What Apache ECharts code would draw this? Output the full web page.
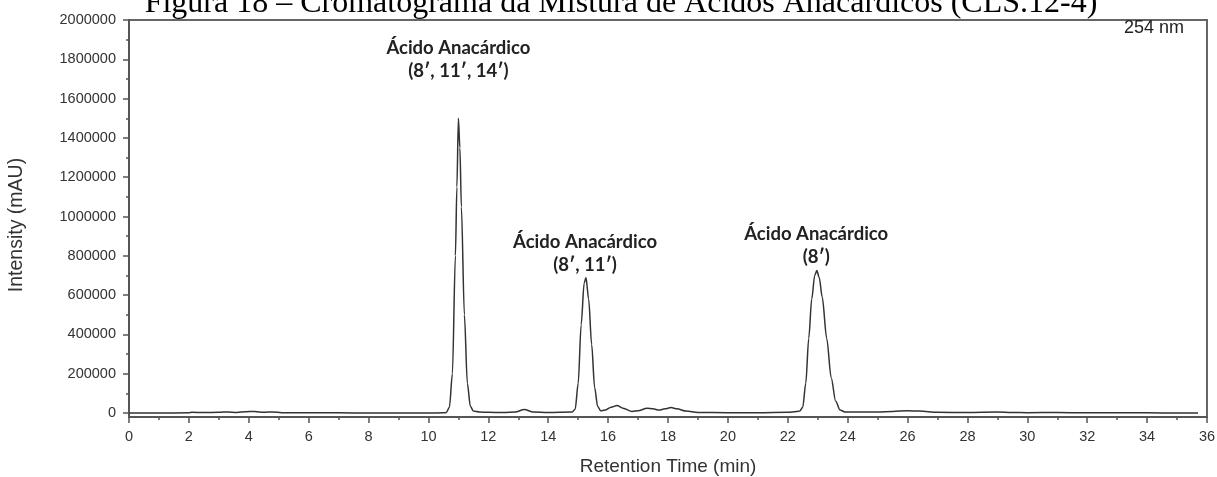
<!DOCTYPE html>
<html>
<head>
<meta charset="utf-8">
<script src="https://cdn.jsdelivr.net/npm/echarts@6/dist/echarts.min.js"></script>
<style>html,body{margin:0;padding:0;background:#fff}#c{width:1217px;height:477px}</style>
</head>
<body>
<div id="c"></div>
<script>
const titleText = 'Figura 18 – Cromatograma da Mistura de Ácidos Anacárdicos (CLS.12-4)';
const xName = 'Retention Time (min)';
const yName = 'Intensity (mAU)';
const wavelength = '254 nm';
const yTickValues = [0, 200000, 400000, 600000, 800000, 1000000, 1200000, 1400000, 1600000, 1800000, 2000000];
const yMinorValues = [100000, 300000, 500000, 700000, 900000, 1100000, 1300000, 1500000, 1700000, 1900000];
const time = [0, 1, 2, 2.1, 2.5, 3.0, 3.3, 3.6, 3.9, 4.2, 4.5, 4.8, 5.1, 6, 7, 8, 9, 10, 10.5,
  10.6, 10.7, 10.8, 10.9, 10.95, 11.0, 11.05, 11.1, 11.2, 11.3, 11.4, 11.5, 11.7, 12, 12.5, 12.9, 13.2, 13.5, 14,
  14.8, 14.9, 15.0, 15.1, 15.2, 15.26, 15.35, 15.45, 15.55, 15.65, 15.75, 15.9, 16.1, 16.3, 16.5, 16.8,
  17.0, 17.3, 17.5, 17.7, 17.9, 18.1, 18.3, 18.6, 19.0, 20, 21, 22, 22.3, 22.4, 22.5, 22.6, 22.7, 22.8, 22.9,
  22.97, 23.05, 23.15, 23.3, 23.45, 23.6, 23.75, 23.9, 24.5, 25, 25.5, 26.0, 26.4, 27, 28, 29, 29.5, 30, 31,
  32, 33, 34, 35, 35.7];
const intensity = [0, 0, 1000, 4000, 3000, 4000, 6000, 3000, 7000, 8000, 4000, 6000, 2000, 1000, 1000, 500, 500, 500, 1000,
  3000, 30000, 200000, 800000, 1150000, 1500000, 1350000, 1050000, 500000, 150000, 35000, 10000, 5000, 4000, 3000, 5000, 18000, 5000, 3000,
  5000, 20000, 150000, 450000, 660000, 690000, 580000, 350000, 130000, 35000, 12000, 15000, 30000, 38000, 25000, 8000,
  12000, 25000, 22000, 15000, 22000, 28000, 22000, 10000, 3000, 2000, 2000, 4000, 8000, 10000, 30000, 150000, 380000, 580000, 700000,
  725000, 690000, 590000, 380000, 180000, 60000, 15000, 6000, 5000, 5000, 8000, 12000, 10000, 4000, 3000, 5000, 3000, 2000, 3000,
  1000, 1000, 1000, 500, 500];
const annotations = [
  { text: 'Ácido Anacárdico\n(8′, 11′, 14′)', x: 11.0, y: 1800000 },
  { text: 'Ácido Anacárdico\n(8′, 11′)', x: 15.23, y: 810000 },
  { text: 'Ácido Anacárdico\n(8′)', x: 22.95, y: 852000 }
];

const chart = echarts.init(document.getElementById('c'), null, { renderer: 'canvas' });
const axisColor = '#555';
const labelStyle = { color: '#333', fontFamily: 'Liberation Sans, Arial', fontSize: 14.5 };
chart.setOption({
  animation: false,
  backgroundColor: '#fff',
  graphic: [
    { type: 'text', x: 621, y: 4, style: { text: titleText, font: '32px "Liberation Serif"', fill: '#000', align: 'center', verticalAlign: 'middle' } },
    { type: 'text', x: 1184, y: 28, style: { text: wavelength, font: '18px "Liberation Sans"', fill: '#222', align: 'right', verticalAlign: 'middle' } },
    { type: 'text', x: 17, y: 225, rotation: Math.PI / 2, style: { text: yName, font: '19.5px "Liberation Sans"', fill: '#333', align: 'center', verticalAlign: 'middle' } }
  ],
  grid: { left: 129, right: 10, top: 20, bottom: 60, outerBoundsMode: 'none', containLabel: false, show: true, borderColor: '#666', borderWidth: 2, backgroundColor: 'transparent' },
  xAxis: {
    type: 'value', min: 0, max: 36, interval: 2,
    name: xName, nameLocation: 'middle', nameGap: 40,
    nameTextStyle: { color: '#333', fontFamily: 'Liberation Sans, Arial', fontSize: 19 },
    axisLine: { show: true, onZero: false, lineStyle: { color: axisColor, width: 2 } },
    axisTick: { show: true, inside: false, length: 6, lineStyle: { color: axisColor, width: 1.5 } },
    minorTick: { show: true, splitNumber: 2, length: 3, lineStyle: { color: axisColor, width: 1.5 } },
    axisLabel: Object.assign({ margin: 12 }, labelStyle),
    splitLine: { show: false }
  },
  yAxis: [{
    type: 'value', min: -20000, max: 2000000,
    axisLine: { show: true, lineStyle: { color: axisColor, width: 2 } },
    axisTick: { show: true, length: 6, customValues: yTickValues, lineStyle: { color: axisColor, width: 1.5 } },
    axisLabel: Object.assign({ margin: 13, customValues: yTickValues, formatter: v => String(v) }, labelStyle),
    splitLine: { show: false }
  }, {
    type: 'value', min: -20000, max: 2000000, position: 'left',
    axisLine: { show: false },
    axisTick: { show: true, length: 3, customValues: yMinorValues, lineStyle: { color: axisColor, width: 1.5 } },
    axisLabel: { show: false },
    splitLine: { show: false }
  }],
  series: [{
    type: 'line',
    data: time.map((t, i) => [t, intensity[i]]),
    showSymbol: false, symbol: 'none',
    smooth: 0.3, smoothMonotone: 'x',
    lineStyle: { color: '#333', width: 1.5 },
    markPoint: {
      symbol: 'circle', symbolSize: 0,
      label: { show: true, position: 'inside', color: '#222', fontWeight: 'bold', fontFamily: 'Lato', fontSize: 18.5, lineHeight: 23, align: 'center' },
      data: annotations.map(a => ({ coord: [a.x, a.y], value: a.text, label: { formatter: a.text } }))
    }
  }]
});
</script>
</body>
</html>
